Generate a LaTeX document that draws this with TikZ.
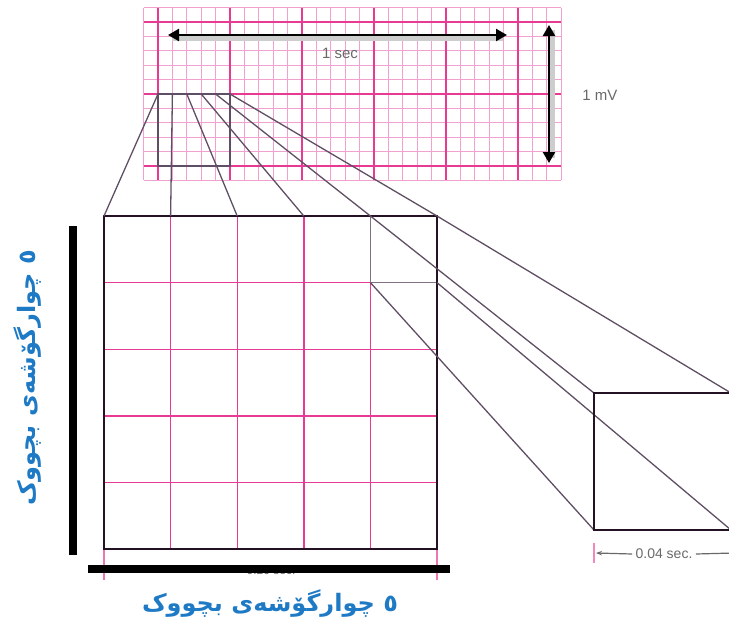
\documentclass[tikz,border=0pt]{standalone}
\usepackage{fontspec}
\setmainfont{Liberation Sans}
\newfontfamily\kurdfont[Script=Arabic]{DejaVu Sans}
\TeXXeTstate=1
\usetikzlibrary{arrows.meta}
\definecolor{ecgminor}{RGB}{242,160,208}
\definecolor{ecgmajor}{RGB}{232,58,146}
\definecolor{ecgline}{RGB}{96,78,100}
\definecolor{ecgdark}{RGB}{36,18,36}
\definecolor{ecggray}{RGB}{105,105,105}
\definecolor{ecgshade}{RGB}{205,205,205}
\definecolor{ecgblue}{RGB}{30,122,196}

\begin{document}
\begin{tikzpicture}[x=1pt,y=-1pt,
        minorln/.style={draw=ecgminor, line width=1pt},
        majorln/.style={draw=ecgmajor, line width=1.4pt},
        proj/.style={draw=ecgline, line width=1.3pt},
        boxln/.style={draw=ecgdark, line width=2pt},
        dimarrow/.style={draw=black, line width=2.4pt, {Triangle[length=11pt,width=12pt]}-{Triangle[length=11pt,width=12pt]}},
        lbl/.style={font=\fontsize{15}{17}\selectfont, text=ecggray},
        kurd/.style={font=\kurdfont\bfseries\fontsize{24}{28}\selectfont, text=ecgblue},
        bar/.style={draw=black, line width=8pt},
      ]
      \useasboundingbox (0,0) rectangle (729,624);
      % top strip of ECG paper
      \foreach \i in {0,...,29} {
        \draw[minorln] (143.6+14.4*\i,7.6) -- (143.6+14.4*\i,180.4);
      }
      \foreach \j in {0,...,12} {
        \draw[minorln] (143.6,7.6+14.4*\j) -- (561.2,7.6+14.4*\j);
      }
      \foreach \i in {0,...,5} {
        \draw[majorln] (158+72*\i,7.6) -- (158+72*\i,180.4);
      }
      \foreach \j in {0,1,2} {
        \draw[majorln] (143.6,22+72*\j) -- (561.2,22+72*\j);
      }
      \draw[ecgshade, line width=6pt] (172,38) -- (503,38);
      \draw[ecgshade, line width=6pt] (552,30) -- (552,158);
      \coordinate (secL) at (168,35);
      \coordinate (secR) at (507,35);
      \coordinate (mvT) at (549,25);
      \coordinate (mvB) at (549,163);
      \draw[dimarrow] (secL) -- (secR);
      \draw[dimarrow] (mvT) -- (mvB);
      \node[lbl] (sec) at (340,53) {1 sec};
      \node[lbl] (mv) at (600,95) {1 mV};
      \draw[proj] (158,94) rectangle (230,166);
      % big square
      \foreach \i in {1,...,4} {
        \draw[majorln] (104+66.6*\i,216) -- (104+66.6*\i,549);
        \draw[majorln] (104,216+66.6*\i) -- (437,216+66.6*\i);
      }
      \draw[majorln, draw=ecgmajor!70] (104,549) -- (104,580);
      \draw[majorln, draw=ecgmajor!70] (437,549) -- (437,580);
      \draw[proj, draw=ecgline!80] (370.4,216) rectangle (437,282.6);
      \draw[boxln] (104,216) rectangle (437,549);
      \foreach \i in {0,...,5} {
        \coordinate (s\i) at (158+14.4*\i,94);
        \coordinate (b\i) at (104+66.6*\i,216);
        \draw[proj] (s\i) -- (b\i);
      }
      % small square blown up
      \coordinate (qTL) at (370.4,216);
      \coordinate (qTR) at (437,216);
      \coordinate (qBL) at (370.4,282.6);
      \coordinate (qBR) at (437,282.6);
      \coordinate (fTL) at (594,393);
      \coordinate (fTR) at (731,393);
      \coordinate (fBL) at (594,530);
      \coordinate (fBR) at (731,530);
      \draw[proj] (qTL) -- (fTL);
      \draw[proj] (qTR) -- (fTR);
      \draw[proj] (qBL) -- (fBL);
      \draw[proj] (qBR) -- (fBR);
      \draw[boxln, line width=2.4pt] (fTR) -- (fTL) -- (fBL) -- (fBR);
      \draw[majorln, draw=ecgmajor!60] (594,543) -- (594,563);
      \node[lbl, font=\fontsize{14}{16}\selectfont] (smallsec) at (664,554) {0.04 sec.};
      \coordinate (smallL) at (596,553);
      \coordinate (smallR) at (734,553);
      \draw[ecggray, line width=1.2pt, -{Stealth[length=6pt]}] (smallsec.west) -- (smallL);
      \draw[ecggray, line width=1.2pt] (smallsec.east) -- (smallR);
      % scale bars and captions
      \node[lbl, font=\fontsize{12}{14}\selectfont] (bigsec) at (271,570) {0.20 sec.};
      \draw[bar] (88,569) -- (450,569);
      \draw[bar] (73,226) -- (73,555);
      \node[kurd, rotate=90] (sidecap) at (28,378) {\beginR ٥ چوارگۆشەی بچووک\endR};
      \node[kurd] (bottomcap) at (270,604) {\beginR ٥ چوارگۆشەی بچووک\endR};
    \end{tikzpicture}
\end{document}
